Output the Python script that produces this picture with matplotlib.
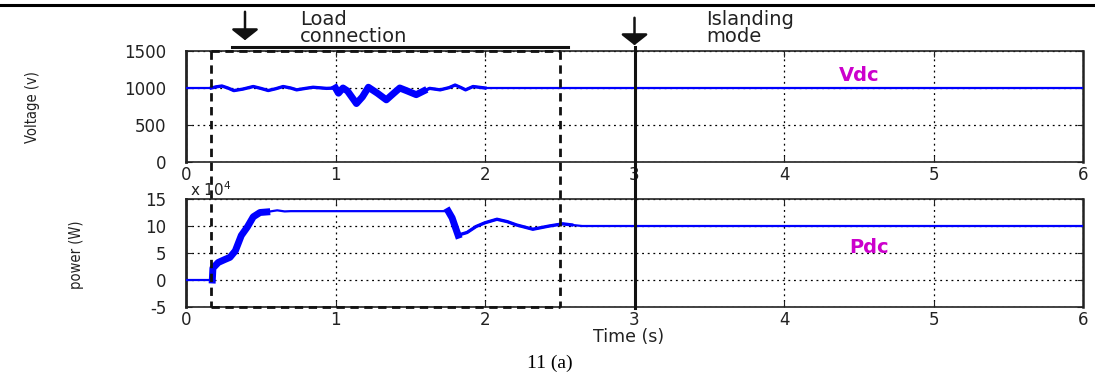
import numpy as np
import matplotlib
matplotlib.use("Agg")
import matplotlib.pyplot as plt
from matplotlib.lines import Line2D
from matplotlib.patches import FancyArrowPatch

# Datos
t_vdc = [0, 0.17, 0.20, 0.24, 0.28, 0.32, 0.38, 0.45, 0.50, 0.55, 0.60, 0.65, 0.70,
         0.74, 0.80, 0.85, 0.94, 1.0, 1.02, 1.05, 1.08, 1.14, 1.18, 1.22, 1.28, 1.34,
         1.39, 1.43, 1.48, 1.54, 1.59, 1.63, 1.70, 1.76, 1.80, 1.84, 1.87, 1.92, 2.0, 6.0]
vdc = [1000, 1000, 1015, 1027, 1000, 965, 985, 1020, 995, 966, 990, 1020, 1000,
       975, 995, 1010, 995, 1000, 930, 1000, 960, 790, 880, 1010, 930, 840,
       930, 1000, 960, 910, 960, 995, 975, 1005, 1040, 1005, 975, 1020, 1000, 1000]

t_pdc = [0, 0.17, 0.176, 0.18, 0.216, 0.26, 0.294, 0.33, 0.37, 0.41, 0.45, 0.495,
         0.54, 0.61, 0.66, 0.70, 1.754, 1.78, 1.82, 1.88, 1.94, 2.0, 2.08, 2.15,
         2.21, 2.32, 2.43, 2.52, 2.58, 2.65, 6.0]
pdc = [0, 0, 0, 22000, 32500, 38000, 42000, 54000, 82500, 98000, 117000, 125000,
       126000, 129000, 127000, 127500, 127500, 115000, 83000, 88000, 99000, 106000, 112500, 108000,
       102000, 94000, 100000, 104000, 102000, 100000, 100000]

t_carga = 0.17
t_fin = 2.5
t_isla = 3.0

W, H = 1095, 382
def fx(px):
    return px / W
def fy(py):
    return 1 - py / H

plt.rcParams['font.family'] = ['DejaVu Sans']
fig = plt.figure(figsize=(W / 100, H / 100), dpi=100)
ax1 = fig.add_axes([fx(186), fy(162), fx(1083) - fx(186), fy(51) - fy(162)])
ax2 = fig.add_axes([fx(186), fy(307), fx(1083) - fx(186), fy(199) - fy(307)])

t_vdc = np.array(t_vdc); vdc = np.array(vdc)
t_pdc = np.array(t_pdc); pdc = np.array(pdc)

ax1.plot(t_vdc, vdc, color='#0000ff', lw=1.6, zorder=3)
m = (t_vdc > 0.16) & (t_vdc < 2.01)
ax1.plot(t_vdc[m], vdc[m], color='#0000ff', lw=2.4, zorder=3)
m = (t_vdc >= 1.0) & (t_vdc <= 1.6)
ax1.plot(t_vdc[m], vdc[m], color='#0000ff', lw=5, zorder=3)

ax2.plot(t_pdc, pdc, color='#0000ff', lw=1.6, zorder=3)
m = (t_pdc > 1.8) & (t_pdc < 2.6)
ax2.plot(t_pdc[m], pdc[m], color='#0000ff', lw=2.4, zorder=3)
m = (t_pdc >= 0.176) & (t_pdc <= 0.54)
ax2.plot(t_pdc[m], pdc[m], color='#0000ff', lw=5, zorder=3)
m = (t_pdc >= 1.754) & (t_pdc <= 1.83)
ax2.plot(t_pdc[m], pdc[m], color='#0000ff', lw=5, zorder=3)

ax1.set_ylim(0, 1500)
ax1.set_yticks([0, 500, 1000, 1500])
ax2.set_ylim(-50000, 150000)
ax2.set_yticks([-50000, 0, 50000, 100000, 150000])
ax2.set_yticklabels(['-5', '0', '5', '10', '15'])

for ax in (ax1, ax2):
    ax.set_xlim(0, 6)
    ax.set_xticks(range(7))
    ax.grid(True, linestyle=(0, (1.5, 3)), color='k', lw=0.9)
    ax.tick_params(direction='in', length=4, labelsize=12, pad=3, colors='#222222',
                   top=True, right=True)
    ax.tick_params(axis='y', pad=14)
    for s in ax.spines.values():
        s.set_linewidth(1.2)
        s.set_color('#222222')
    ax.spines['left'].set_linewidth(2)
    ax.spines['right'].set_linewidth(1.8)

ax1.text(4.5, 1170, 'Vdc', color='#cc00cc', fontsize=14, fontweight='bold',
         ha='center', va='center')
ax2.text(4.57, 60000, 'Pdc', color='#cc00cc', fontsize=14, fontweight='bold',
         ha='center', va='center')

fig.text(fx(190), fy(190), 'x 10$^4$', fontsize=11, ha='left', va='center', color='#222222')
fig.text(fx(33), fy(107), 'Voltage (v)', rotation=90, fontsize=10.5, fontstretch='condensed',
         ha='center', va='center', color='#222222')
fig.text(fx(77), fy(255), 'power (W)', rotation=90, fontsize=10.5, fontstretch='condensed',
         ha='center', va='center', color='#222222')
fig.text(fx(629), fy(337), 'Time (s)', fontsize=12.5, ha='center', va='center', color='#222222')
fig.text(fx(550), fy(363), '11 (a)', fontsize=14, ha='center', va='center',
         family='Liberation Serif', color='black')

fig.text(fx(300), fy(28), 'Load\nconnection', fontsize=14, ha='left', va='center',
         linespacing=0.85, color='#222222')
fig.text(fx(706), fy(28), 'Islanding\nmode', fontsize=14, ha='left', va='center',
         linespacing=0.85, color='#222222')

# posiciones en figura a partir de los ejes
to_fig = fig.transFigure.inverted()
x_carga = to_fig.transform(ax1.transData.transform((t_carga, 0)))[0]
x_fin = to_fig.transform(ax1.transData.transform((t_fin, 0)))[0]
x_isla = to_fig.transform(ax1.transData.transform((t_isla, 0)))[0]
y_top = fy(51)
y_bot = fy(307)

dash = dict(color='#111111', lw=2, linestyle=(0, (3, 2)), transform=fig.transFigure)
fig.add_artist(Line2D([x_carga, x_carga], [y_top, y_bot], **dash))
fig.add_artist(Line2D([x_fin, x_fin], [y_top, y_bot], **dash))
fig.add_artist(Line2D([x_carga, x_fin], [y_top, y_top], **dash))
fig.add_artist(Line2D([x_carga, x_fin], [y_bot, y_bot], **dash))

fig.add_artist(Line2D([x_isla, x_isla], [fy(47), fy(308)], color='#111111', lw=2.2,
                      transform=fig.transFigure))
fig.add_artist(Line2D([fx(232), fx(568)], [fy(47), fy(47)], color='#111111', lw=2.2,
                      transform=fig.transFigure))
fig.add_artist(Line2D([0, 1], [fy(5), fy(5)], color='black', lw=2.2,
                      transform=fig.transFigure))

flecha = dict(arrowstyle='-|>,head_length=0.3,head_width=0.38', mutation_scale=22,
              color='#111111', lw=1.8, transform=fig.transFigure)
fig.add_artist(FancyArrowPatch((fx(245), fy(9)), (fx(245), fy(43)), **flecha))
fig.add_artist(FancyArrowPatch((x_isla, fy(15)), (x_isla, fy(48)), **flecha))

fig.savefig('out.png', dpi=100)
